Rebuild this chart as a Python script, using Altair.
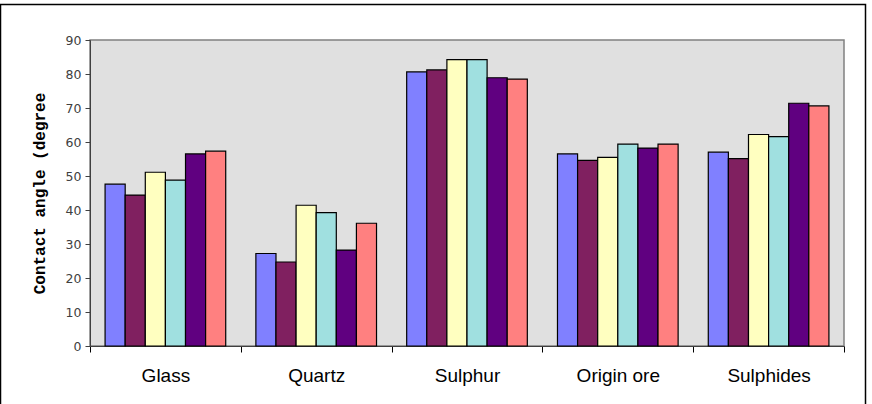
import altair as alt
import pandas as pd

materials = ["Glass", "Quartz", "Sulphur", "Origin ore", "Sulphides"]
series = ["S1", "S2", "S3", "S4", "S5", "S6"]
colors = ["#8080FF", "#802060", "#FFFFC0", "#A0E0E0", "#600080", "#FF8080"]

# contact angle per material, one list per series
s1 = [47.6, 27.2, 80.6, 56.5, 57.0]
s2 = [44.4, 24.7, 81.2, 54.6, 55.1]
s3 = [51.1, 41.4, 84.2, 55.5, 62.2]
s4 = [48.8, 39.2, 84.2, 59.4, 61.6]
s5 = [56.5, 28.2, 78.9, 58.2, 71.4]
s6 = [57.3, 36.1, 78.5, 59.4, 70.6]

rows = []
for name, vals in zip(series, [s1, s2, s3, s4, s5, s6]):
    for m, v in zip(materials, vals):
        rows.append({"material": m, "series": name, "angle": v})
df = pd.DataFrame(rows)

W, H = 754, 306

bars = alt.Chart(df).mark_bar(stroke="black", strokeWidth=1.2).encode(
    x=alt.X(
        "material:N",
        sort=materials,
        scale=alt.Scale(paddingInner=0, paddingOuter=0),
        axis=alt.Axis(
            title=None,
            labelAngle=0,
            labelFont="Liberation Sans",
            labelFontSize=19,
            labelColor="black",
            labelPadding=14,
            tickBand="extent",
            tickSize=6,
            tickColor="black",
            domainColor="#404040",
        ),
    ),
    xOffset=alt.XOffset(
        "series:N", sort=series, scale=alt.Scale(paddingInner=0, paddingOuter=0.75)
    ),
    y=alt.Y(
        "angle:Q",
        scale=alt.Scale(domain=[0, 90], nice=False),
        axis=alt.Axis(
            title="Contact angle (degree",
            titleFont="Liberation Mono",
            titleFontWeight="bold",
            titleFontSize=16,
            titleColor="black",
            titlePadding=18,
            values=list(range(0, 91, 10)),
            labelFont="DejaVu Sans",
            labelFontSize=12.5,
            labelColor="#404040",
            labelPadding=4,
            tickSize=5,
            tickColor="#404040",
            domainColor="#404040",
            grid=False,
        ),
    ),
    color=alt.Color("series:N", sort=series, scale=alt.Scale(domain=series, range=colors), legend=None),
)

# outer chart frame
frame = alt.Chart(pd.DataFrame({"k": [0]})).mark_rect(
    fill=None, stroke="black", strokeWidth=1.5, clip=False
).encode(
    x=alt.value(-89.5), x2=alt.value(775.5), y=alt.value(-35.5), y2=alt.value(380)
)

chart = alt.layer(frame, bars).properties(
    width=W,
    height=H,
    padding={"left": 90, "top": 40, "right": 28, "bottom": 58},
    autosize=alt.AutoSizeParams(type="none"),
    background="white",
).configure_view(
    fill="#E0E0E0", stroke="#808080", strokeWidth=1.5
)

chart.save("out.html", embed_options={"renderer": "svg", "actions": False})
